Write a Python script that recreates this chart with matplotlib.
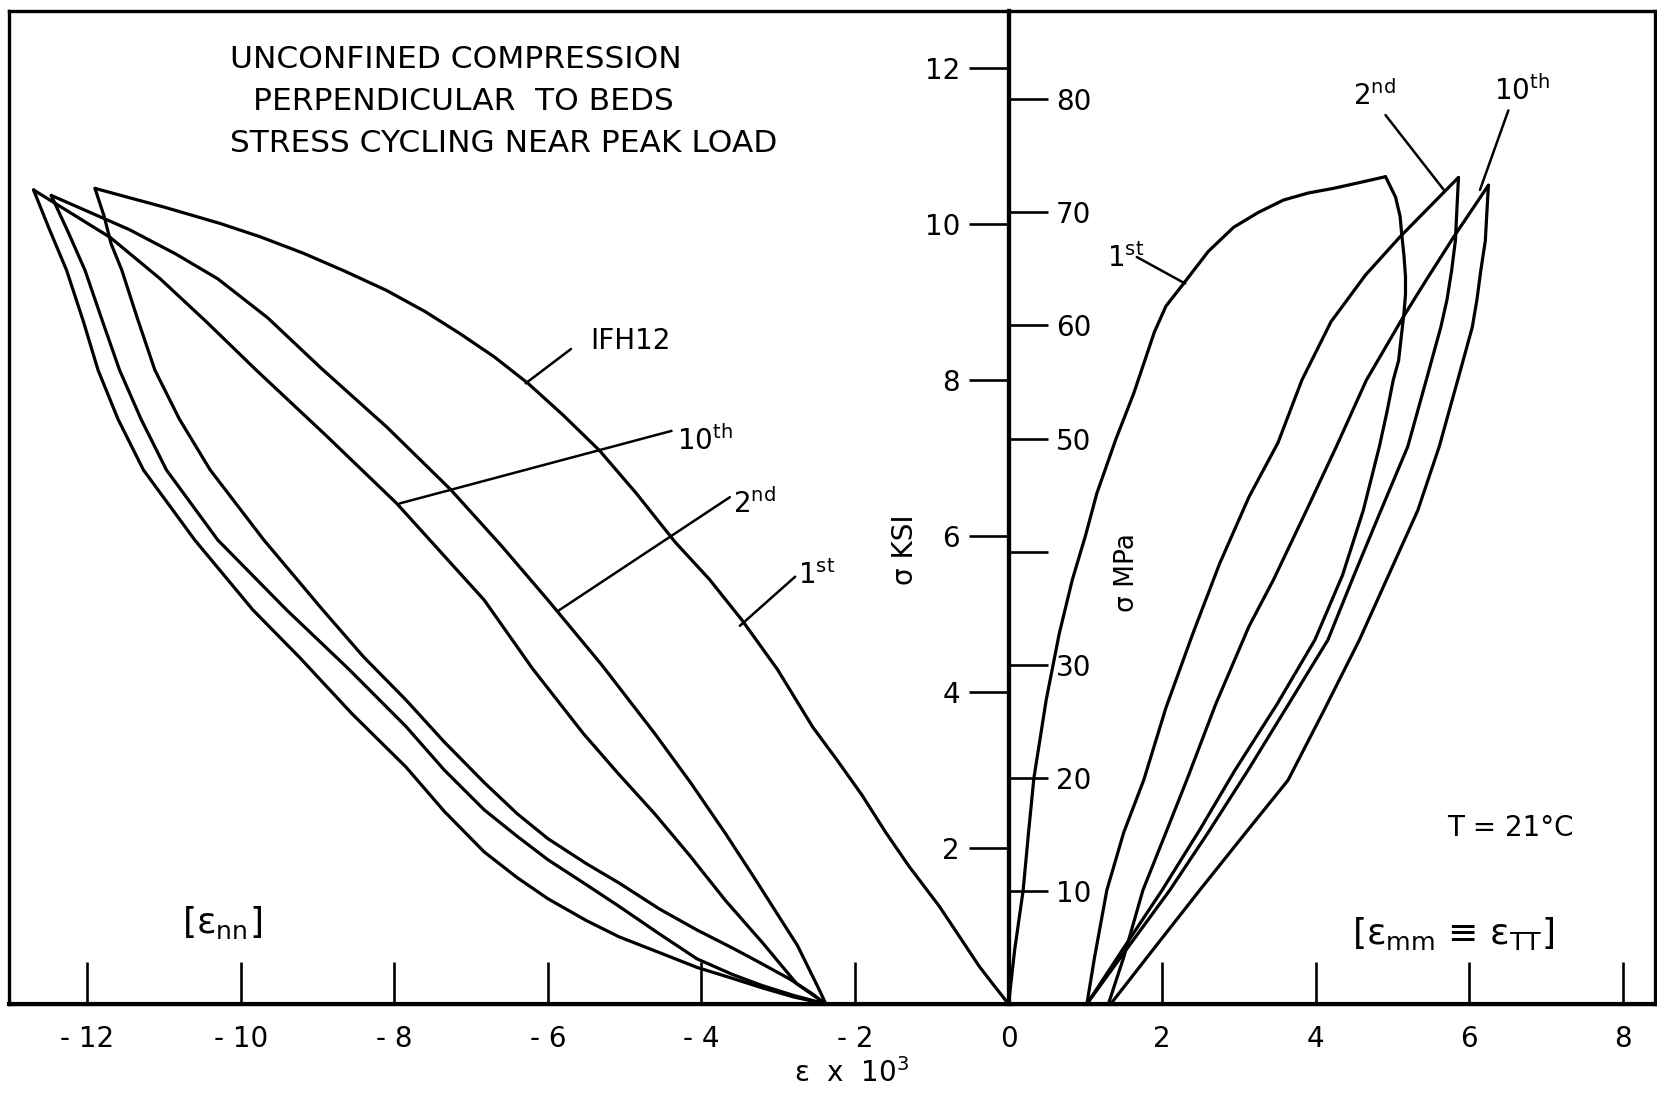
import matplotlib
matplotlib.use("Agg")
import matplotlib.pyplot as plt

plt.rcParams['font.family'] = ['DejaVu Sans']
plt.rcParams['mathtext.fontset'] = 'dejavusans'

# ---------------- data: strain (x10^3) and stress (ksi) ----------------
# Left half: epsilon_nn
nn_load1_eps = [0, -0.2, -0.38, -0.65, -0.9, -1.3, -1.6, -1.91, -2.25, -2.55, -3.01, -3.47, -3.9, -4.34, -4.85,
                -5.33, -5.8, -6.26, -6.7, -7.15, -7.6, -8.1, -8.65, -9.19, -9.75, -10.27, -11.0, -11.9]
nn_load1_sig = [0, 0.25, 0.48, 0.88, 1.25, 1.77, 2.2, 2.68, 3.15, 3.55, 4.29, 4.92, 5.45, 5.92, 6.55,
                7.1, 7.55, 7.96, 8.3, 8.6, 8.88, 9.15, 9.4, 9.63, 9.84, 10.01, 10.22, 10.46]

nn_unload1_eps = [-11.9, -11.78, -11.69, -11.55, -11.35, -11.12, -10.8, -10.4, -9.7, -8.93, -8.4, -7.85, -7.35,
                  -6.83, -6.4, -6.0, -5.5, -5.07, -4.55, -4.06, -3.6, -3.22, -2.85, -2.57, -2.38]
nn_unload1_sig = [10.46, 10.1, 9.75, 9.41, 8.8, 8.13, 7.5, 6.85, 5.95, 5.05, 4.45, 3.9, 3.36,
                  2.84, 2.44, 2.12, 1.8, 1.55, 1.22, 0.95, 0.72, 0.52, 0.32, 0.14, 0]

nn_reload2_eps = [-2.38, -2.45, -2.57, -2.75, -2.99, -3.3, -3.69, -4.15, -4.61, -5.3, -6.0, -6.6, -7.27, -8.1,
                  -8.95, -9.65, -10.3, -10.85, -11.45, -12.47]
nn_reload2_sig = [0, 0.15, 0.39, 0.75, 1.12, 1.6, 2.19, 2.85, 3.47, 4.35, 5.18, 5.87, 6.6, 7.4,
                  8.15, 8.8, 9.3, 9.62, 9.93, 10.37]

nn_unload2_eps = [-12.47, -12.25, -12.03, -11.8, -11.58, -11.3, -10.97, -10.3, -9.4, -8.6, -7.85, -7.35, -6.83,
                  -6.4, -6.0, -5.5, -5.07, -4.55, -4.06, -3.6, -3.22, -2.8, -2.38]
nn_unload2_sig = [10.37, 9.9, 9.41, 8.75, 8.13, 7.5, 6.85, 5.95, 5.05, 4.3, 3.56, 3.0, 2.49,
                  2.15, 1.85, 1.53, 1.25, 0.9, 0.58, 0.38, 0.24, 0.11, 0]

nn_reload10_eps = [-2.38, -2.76, -3.2, -3.69, -4.15, -4.61, -5.08, -5.54, -6.2, -6.83, -7.4, -7.97, -8.9, -9.8,
                   -10.45, -11.05, -11.7, -12.7]
nn_reload10_sig = [0, 0.26, 0.78, 1.33, 1.9, 2.44, 2.95, 3.47, 4.3, 5.18, 5.8, 6.42, 7.3, 8.13,
                   8.75, 9.3, 9.83, 10.44]

nn_unload10_eps = [-12.7, -12.5, -12.27, -12.05, -11.86, -11.6, -11.27, -10.6, -9.84, -9.24, -8.55, -7.85, -7.35,
                   -6.83, -6.4, -6.0, -5.5, -5.07, -4.55, -4.06, -3.6, -3.22, -2.8, -2.38]
nn_unload10_sig = [10.44, 9.95, 9.41, 8.75, 8.13, 7.5, 6.85, 5.95, 5.05, 4.45, 3.72, 3.04, 2.47,
                   1.95, 1.62, 1.35, 1.07, 0.86, 0.66, 0.47, 0.33, 0.21, 0.09, 0]

# Right half: epsilon_mm = epsilon_TT
mm_load1_eps = [0, 0.08, 0.19, 0.26, 0.33, 0.49, 0.66, 0.83, 1.0, 1.15, 1.4, 1.63, 1.9, 2.05, 2.28, 2.6, 2.93,
                3.25, 3.58, 3.9, 4.23, 4.55, 4.91]
mm_load1_sig = [0, 0.7, 1.46, 2.2, 2.9, 3.9, 4.75, 5.44, 6.0, 6.55, 7.25, 7.83, 8.62, 8.95, 9.24, 9.65, 9.96,
                10.15, 10.31, 10.4, 10.46, 10.53, 10.61]

mm_unload1_eps = [4.91, 5.04, 5.1, 5.12, 5.15, 5.17, 5.17, 5.15, 5.08, 5.01, 4.93, 4.83, 4.62, 4.35, 3.99, 3.5,
                  2.95, 2.5, 2.0, 1.5, 1.02]
mm_unload1_sig = [10.61, 10.35, 10.1, 9.88, 9.6, 9.33, 9.1, 8.86, 8.25, 8.0, 7.6, 7.15, 6.33, 5.5, 4.67, 3.85,
                  3.0, 2.25, 1.46, 0.72, 0]

mm_reload2_eps = [1.02, 1.12, 1.28, 1.5, 1.76, 2.05, 2.4, 2.75, 3.13, 3.51, 3.82, 4.2, 4.65, 5.1, 5.86]
mm_reload2_sig = [0, 0.6, 1.46, 2.2, 2.87, 3.8, 4.75, 5.65, 6.5, 7.2, 8.0, 8.75, 9.35, 9.84, 10.6]

mm_unload2_eps = [5.86, 5.84, 5.82, 5.77, 5.71, 5.63, 5.44, 5.2, 4.85, 4.5, 4.16, 3.65, 3.12, 2.6, 2.1, 1.55, 1.02]
mm_unload2_sig = [10.6, 10.2, 9.79, 9.4, 9.03, 8.68, 8.0, 7.15, 6.33, 5.5, 4.67, 3.85, 3.0, 2.2, 1.46, 0.72, 0]

mm_reload10_eps = [1.3, 1.5, 1.75, 2.05, 2.32, 2.7, 3.13, 3.45, 3.88, 4.27, 4.66, 5.14, 5.45, 5.8, 6.25]
mm_reload10_sig = [0, 0.6, 1.46, 2.2, 2.87, 3.85, 4.84, 5.44, 6.33, 7.15, 8.0, 8.81, 9.3, 9.84, 10.5]

mm_unload10_eps = [6.25, 6.23, 6.21, 6.15, 6.1, 6.04, 5.85, 5.61, 5.33, 4.95, 4.57, 4.1, 3.64, 3.05, 2.49, 1.9, 1.33]
mm_unload10_sig = [10.5, 10.15, 9.79, 9.4, 9.03, 8.68, 8.0, 7.15, 6.33, 5.5, 4.67, 3.75, 2.87, 2.15, 1.46, 0.72, 0]

curves = [
    (nn_load1_eps, nn_load1_sig), (nn_unload1_eps, nn_unload1_sig),
    (nn_reload2_eps, nn_reload2_sig), (nn_unload2_eps, nn_unload2_sig),
    (nn_reload10_eps, nn_reload10_sig), (nn_unload10_eps, nn_unload10_sig),
    (mm_load1_eps, mm_load1_sig), (mm_unload1_eps, mm_unload1_sig),
    (mm_reload2_eps, mm_reload2_sig), (mm_unload2_eps, mm_unload2_sig),
    (mm_reload10_eps, mm_reload10_sig), (mm_unload10_eps, mm_unload10_sig),
]

x_ticks = [-12, -10, -8, -6, -4, -2, 0, 2, 4, 6, 8]
x_ticklabels = ['- 12', '- 10', '- 8', '- 6', '- 4', '- 2', '0', '2', '4', '6', '8']
ksi_ticks = [2, 4, 6, 8, 10, 12]
ksi_ticklabels = ['2', '4', '6', '8', '10', '12']
mpa_ticks = [10, 20, 30, 40, 50, 60, 70, 80]
mpa_ticklabels = ['10', '20', '30', '', '50', '60', '70', '80']
KSI_TO_MPA = 6.895

title_lines = ['UNCONFINED COMPRESSION', 'PERPENDICULAR  TO BEDS', 'STRESS CYCLING NEAR PEAK LOAD']

# ---------------- figure ----------------
W, H = 1658, 1094
fig = plt.figure(figsize=(W / 100, H / 100), dpi=100)
fig.patch.set_facecolor('white')

xl_px, xr_px = 9.0, 1655.0
yb_px, yt_px = 1004.0, 10.6
pos = [xl_px / W, 1 - yb_px / H, (xr_px - xl_px) / W, (yb_px - yt_px) / H]
XMIN, XMAX = -13.02, 8.42
YMIN, YMAX = 0, 12.74

frame = fig.add_axes(pos, zorder=0)
frame.set_xlim(XMIN, XMAX)
frame.set_ylim(YMIN, YMAX)
frame.set_xticks([])
frame.set_yticks([])
for s in frame.spines.values():
    s.set_linewidth(2.4)
    s.set_color('black')

ax = fig.add_axes(pos, zorder=2)
ax.patch.set_visible(False)
ax.set_xlim(XMIN, XMAX)
ax.set_ylim(YMIN, YMAX)
ax.spines['top'].set_visible(False)
ax.spines['right'].set_visible(False)
ax.spines['left'].set_position(('data', 0))
ax.spines['left'].set_linewidth(3.0)
ax.spines['bottom'].set_linewidth(3.0)

ax.set_xticks(x_ticks)
ax.set_xticklabels(x_ticklabels)
ax.tick_params(axis='x', direction='in', length=30, width=1.9, pad=15, labelsize=20)
ax.set_yticks(ksi_ticks)
ax.set_yticklabels(ksi_ticklabels)
ax.tick_params(axis='y', direction='out', length=29, width=1.9, pad=6, labelsize=20)

loc = (0 - XMIN) / (XMAX - XMIN)
sec = ax.secondary_yaxis(loc, functions=(lambda s: s * KSI_TO_MPA, lambda m: m / KSI_TO_MPA))
try:
    sec.set_alignment('right')
except Exception:
    pass
sec.set_yticks(mpa_ticks)
sec.set_yticklabels(mpa_ticklabels)
sec.tick_params(axis='y', direction='out', length=28, width=1.9, pad=6, labelsize=20)
for s in sec.spines.values():
    s.set_linewidth(3.0)

for e, s in curves:
    ax.plot(e, s, color='black', lw=2.3, solid_joinstyle='round', solid_capstyle='round', zorder=3)

# ---------------- labels ----------------
def pointer(p_text, p_curve):
    ax.annotate('', xy=p_curve, xytext=p_text,
                arrowprops=dict(arrowstyle='-', lw=1.8, color='black', shrinkA=0, shrinkB=0))

tkw = dict(color='black', fontsize=20)
ax.text(-10.14, 12.11, title_lines[0], ha='left', va='center', fontsize=22.5)
ax.text(-9.84, 11.58, title_lines[1], ha='left', va='center', fontsize=22.5)
ax.text(-10.14, 11.04, title_lines[2], ha='left', va='center', fontsize=22.5)

ax.text(-4.92, 8.40, 'IFH12', ha='center', va='baseline', **tkw)
pointer((-5.70, 8.40), (-6.29, 7.96))
ax.text(-4.32, 7.11, r'$\mathregular{10^{th}}$', ha='left', va='baseline', **tkw)
pointer((-4.39, 7.35), (-7.93, 6.42))
ax.text(-3.59, 6.30, r'$\mathregular{2^{nd}}$', ha='left', va='baseline', **tkw)
pointer((-3.63, 6.50), (-5.87, 5.04))
ax.text(-2.74, 5.39, r'$\mathregular{1^{st}}$', ha='left', va='baseline', **tkw)
pointer((-2.78, 5.48), (-3.50, 4.85))

ax.text(1.28, 9.45, r'$\mathregular{1^{st}}$', ha='left', va='baseline', **tkw)
pointer((1.67, 9.58), (2.30, 9.24))
ax.text(4.49, 11.53, r'$\mathregular{2^{nd}}$', ha='left', va='baseline', **tkw)
pointer((4.91, 11.40), (5.67, 10.44))
ax.text(6.32, 11.59, r'$\mathregular{10^{th}}$', ha='left', va='baseline', **tkw)
pointer((6.51, 11.46), (6.14, 10.44))

ax.text(-1.35, 5.82, 'σ KSI', rotation=90, ha='center', va='center', fontsize=20)
ax.text(1.54, 5.53, 'σ MPa', rotation=90, ha='center', va='center', fontsize=19)

ax.text(6.54, 2.26, 'T = 21°C', ha='center', va='center', fontsize=20)
ax.text(5.79, 0.91, r'[ε$_{\mathregular{mm}}$ ≡ ε$_{\mathregular{TT}}$]', ha='center', va='center', fontsize=26)
ax.text(-10.25, 1.04, r'[ε$_{\mathregular{nn}}$]', ha='center', va='center', fontsize=26)

ax.text(-2.05, -0.88, r'ε  x  10$^{\mathregular{3}}$', ha='center', va='center', fontsize=20, clip_on=False)

fig.savefig('out.png', dpi=100, facecolor='white')
